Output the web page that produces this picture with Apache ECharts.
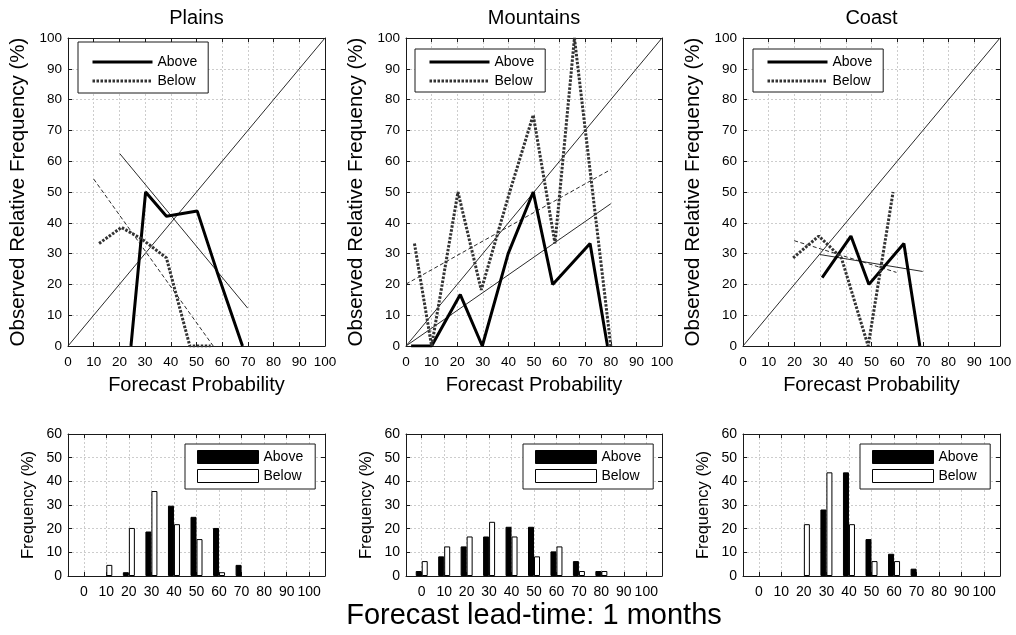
<!DOCTYPE html>
<html>
<head>
<meta charset="utf-8">
<script src="https://cdn.jsdelivr.net/npm/echarts@6/dist/echarts.min.js"></script>
<style>
html,body{margin:0;padding:0;background:#fff;}
#chart{width:1016px;height:635px;}
</style>
</head>
<body>
<div id="chart"></div>
<script>
// ---------- DATA ----------
const regionNames = ['Plains', 'Mountains', 'Coast'];
const probTicks = [0, 10, 20, 30, 40, 50, 60, 70, 80, 90, 100];

// perfect-reliability diagonal
const diagX = [0, 100];
const diagY = [0, 100];

// reliability curves (forecast probability, observed relative frequency %)
const plainsAboveX = [24.5, 30.2, 38.3, 50.3, 58.4, 67.9];
const plainsAboveY = [0, 50, 42.1, 43.8, 23.1, 0];
const plainsBelowX = [12.1, 20.8, 28.6, 38.3, 47.4, 55.5];
const plainsBelowY = [33.3, 38.5, 34.8, 28.6, 0, 0];

const mountainsAboveX = [2, 10, 21.2, 29.8, 39.9, 49.7, 57.3, 71.9, 78.7];
const mountainsAboveY = [0, 0, 16.7, 0, 30, 50, 20, 33.3, 0];
const mountainsBelowX = [3.3, 10, 20.3, 29.4, 40.5, 49.7, 58.2, 65.8, 80];
const mountainsBelowY = [33.3, 0, 50, 18.2, 50, 75, 33.3, 100, 0];

const coastAboveX = [30.8, 42, 49, 62.6, 68.8];
const coastAboveY = [22.2, 35.7, 20, 33.3, 0];
const coastBelowX = [19.5, 29.5, 38.3, 48.7, 58.4];
const coastBelowY = [28.6, 35.7, 28.6, 0, 50];

// fitted regression lines
const plainsAboveFitX = [20.1, 69.9];
const plainsAboveFitY = [62.5, 12.3];
const plainsBelowFitX = [10, 56.5];
const plainsBelowFitY = [54.2, 0];
const mountainsAboveFitX = [0, 80];
const mountainsAboveFitY = [0, 46.2];
const mountainsBelowFitX = [0, 80];
const mountainsBelowFitY = [20.1, 57.3];
const coastAboveFitX = [29.9, 69.9];
const coastAboveFitY = [29.7, 24.2];
const coastBelowFitX = [19.9, 59.7];
const coastBelowFitY = [34.2, 23.9];

// forecast frequency histograms (%) per probability bin (null = no bar)
const plainsHistAbove    = [null, null, 1.6, 18.8, 29.7, 25.0, 20.3, 4.7, null, null, null];
const plainsHistBelow    = [null, 4.7, 20.3, 35.9, 21.9, 15.6, 1.6, null, null, null, null];
const mountainsHistAbove = [2.1, 8.3, 12.5, 16.7, 20.8, 20.8, 10.4, 6.3, 2.1, null, null];
const mountainsHistBelow = [6.3, 12.5, 16.7, 22.9, 16.7, 8.3, 12.5, 2.1, 2.1, null, null];
const coastHistAbove     = [null, null, null, 28.1, 43.8, 15.6, 9.4, 3.1, null, null, null];
const coastHistBelow     = [null, null, 21.9, 43.8, 21.9, 6.3, 6.3, null, null, null, null];

const mainTitle = 'Forecast lead-time: 1 months';

// ---------- BUILD ----------
const FONT = '"Liberation Sans", Arial, Helvetica, sans-serif';
const FRAME = '#1a1a1a';
const GRIDC = '#cdcdcd';

function zip(xs, ys) { return xs.map((x, i) => [x, ys[i]]); }
function bars(vals) {
  const out = [];
  probTicks.forEach((x, i) => { if (vals[i] !== null) out.push([x, vals[i]]); });
  return out;
}

const rel = [
  {ax: plainsAboveX, ay: plainsAboveY, bx: plainsBelowX, by: plainsBelowY,
   afx: plainsAboveFitX, afy: plainsAboveFitY, bfx: plainsBelowFitX, bfy: plainsBelowFitY},
  {ax: mountainsAboveX, ay: mountainsAboveY, bx: mountainsBelowX, by: mountainsBelowY,
   afx: mountainsAboveFitX, afy: mountainsAboveFitY, bfx: mountainsBelowFitX, bfy: mountainsBelowFitY},
  {ax: coastAboveX, ay: coastAboveY, bx: coastBelowX, by: coastBelowY,
   afx: coastAboveFitX, afy: coastAboveFitY, bfx: coastBelowFitX, bfy: coastBelowFitY}
];
const hist = [
  [plainsHistAbove, plainsHistBelow],
  [mountainsHistAbove, mountainsHistBelow],
  [coastHistAbove, coastHistBelow]
];

const panelLeft = [68, 406, 743];
const panelWidth = [257, 256, 257];
const topLegendPos = [{left: 78, top: 42, padding: [13, 11, 5, 13]},
                      {left: 415, top: 49, padding: [6, 11, 4, 13]},
                      {left: 753, top: 49, padding: [6, 11, 4, 13]}];
const botLegendLeft = [185, 523, 860];

const grids = [], xAxes = [], yAxes = [], series = [], legends = [], titles = [];

const lineAxisCommon = {
  axisLine: {show: true, onZero: false, lineStyle: {color: FRAME, width: 1}},
  axisTick: {show: true, inside: true, length: 4, lineStyle: {color: FRAME, width: 1}}
};

for (let i = 0; i < 3; i++) {
  const cx = panelLeft[i] + panelWidth[i] / 2;
  titles.push({text: regionNames[i], left: cx, top: 8, textAlign: 'center', padding: 0,
    textStyle: {fontFamily: FONT, fontSize: 20, fontWeight: 'normal', color: '#000'}});

  // --- top reliability panel ---
  const g = grids.length;
  grids.push({left: panelLeft[i], top: 38, width: panelWidth[i], height: 308, containLabel: false});
  const xi = xAxes.length, yi = yAxes.length;
  xAxes.push(Object.assign({gridIndex: g, type: 'value', min: 0, max: 100, interval: 10, position: 'bottom',
    axisLabel: {fontFamily: FONT, fontSize: 13.5, color: '#000', margin: 9},
    splitLine: {show: true, lineStyle: {color: GRIDC, type: [2, 2], width: 1}},
    name: 'Forecast Probability', nameLocation: 'middle', nameGap: 29,
    nameTextStyle: {fontFamily: FONT, fontSize: 20, color: '#000'}}, lineAxisCommon));
  xAxes.push(Object.assign({gridIndex: g, type: 'value', min: 0, max: 100, interval: 10, position: 'top',
    axisLabel: {show: false}, splitLine: {show: false}}, lineAxisCommon));
  yAxes.push(Object.assign({gridIndex: g, type: 'value', min: 0, max: 100, interval: 10, position: 'left',
    axisLabel: {fontFamily: FONT, fontSize: 13.5, color: '#000', margin: 6},
    splitLine: {show: true, lineStyle: {color: GRIDC, type: [2, 2], width: 1}},
    name: 'Observed Relative Frequency (%)', nameLocation: 'middle', nameGap: 39,
    nameTextStyle: {fontFamily: FONT, fontSize: 20.5, color: '#000'}}, lineAxisCommon));
  yAxes.push(Object.assign({gridIndex: g, type: 'value', min: 0, max: 100, interval: 10, position: 'right',
    axisLabel: {show: false}, splitLine: {show: false}}, lineAxisCommon));

  const r = rel[i];
  const thin = {color: '#2a2a2a', width: 1};
  series.push({type: 'line', name: 'diag', xAxisIndex: xi, yAxisIndex: yi, data: zip(diagX, diagY),
    symbol: 'none', silent: true, lineStyle: thin, z: 2});
  series.push({type: 'line', name: 'fitAbove', xAxisIndex: xi, yAxisIndex: yi, data: zip(r.afx, r.afy),
    symbol: 'none', silent: true, lineStyle: thin, z: 2});
  series.push({type: 'line', name: 'fitBelow', xAxisIndex: xi, yAxisIndex: yi, data: zip(r.bfx, r.bfy),
    symbol: 'none', silent: true, lineStyle: {color: '#2a2a2a', width: 1, type: [4, 2.5]}, z: 2});
  series.push({type: 'line', name: 'Above', xAxisIndex: xi, yAxisIndex: yi, data: zip(r.ax, r.ay),
    symbol: 'none', itemStyle: {color: '#000'}, lineStyle: {color: '#000', width: 3}, z: 3});
  series.push({type: 'line', name: 'Below', xAxisIndex: xi, yAxisIndex: yi, data: zip(r.bx, r.by),
    symbol: 'none', itemStyle: {color: '#333'}, lineStyle: {color: '#333', width: 3, type: [2.5, 1.5]}, z: 3});

  legends.push(Object.assign({data: ['Above', 'Below'], orient: 'vertical', itemWidth: 60, itemHeight: 14,
    itemGap: 5, backgroundColor: '#fff', borderColor: FRAME, borderWidth: 1, borderRadius: 0,
    selectedMode: false, itemStyle: {opacity: 0}, lineStyle: {width: 3},
    textStyle: {fontFamily: FONT, fontSize: 14, color: '#000'}}, topLegendPos[i]));
}

for (let i = 0; i < 3; i++) {
  // --- bottom histogram panel ---
  const g = grids.length;
  grids.push({left: panelLeft[i], top: 434, width: panelWidth[i], height: 142, containLabel: false});
  const xi = xAxes.length, yi = yAxes.length;
  xAxes.push({gridIndex: g, type: 'value', min: -7, max: 107, position: 'bottom',
    axisLine: {show: true, onZero: false, lineStyle: {color: FRAME, width: 1}},
    axisTick: {show: true, inside: true, length: 4, customValues: probTicks, lineStyle: {color: FRAME}},
    axisLabel: {fontFamily: FONT, fontSize: 14, color: '#000', margin: 9, customValues: probTicks},
    splitLine: {show: true, lineStyle: {color: GRIDC, type: [2, 2], width: 1}}});
  xAxes.push({gridIndex: g, type: 'value', min: -7, max: 107, position: 'top',
    axisLine: {show: true, onZero: false, lineStyle: {color: FRAME, width: 1}},
    axisTick: {show: true, inside: true, length: 4, customValues: probTicks, lineStyle: {color: FRAME}},
    axisLabel: {show: false, customValues: probTicks}, splitLine: {show: false}});
  yAxes.push(Object.assign({gridIndex: g, type: 'value', min: 0, max: 60, interval: 10, position: 'left',
    axisLabel: {fontFamily: FONT, fontSize: 14, color: '#000', margin: 6},
    splitLine: {show: true, lineStyle: {color: GRIDC, type: [2, 2], width: 1}},
    name: 'Frequency (%)', nameLocation: 'middle', nameGap: 31,
    nameTextStyle: {fontFamily: FONT, fontSize: 16.5, color: '#000'}}, lineAxisCommon));
  yAxes.push(Object.assign({gridIndex: g, type: 'value', min: 0, max: 60, interval: 10, position: 'right',
    axisLabel: {show: false}, splitLine: {show: false}}, lineAxisCommon));

  series.push({type: 'bar', name: 'AboveBar', xAxisIndex: xi, yAxisIndex: yi, data: bars(hist[i][0]),
    barWidth: 6, barGap: '0%', itemStyle: {color: '#000', borderColor: '#000', borderWidth: 1}, z: 3});
  series.push({type: 'bar', name: 'BelowBar', xAxisIndex: xi, yAxisIndex: yi, data: bars(hist[i][1]),
    barWidth: 6, barGap: '0%', itemStyle: {color: '#fff', borderColor: '#000', borderWidth: 1}, z: 3});

  legends.push({data: ['AboveBar', 'BelowBar'], orient: 'vertical', left: botLegendLeft[i], top: 444,
    padding: [6, 12, 6, 12], itemWidth: 61, itemHeight: 13, itemGap: 5, icon: 'rect',
    backgroundColor: '#fff', borderColor: FRAME, borderWidth: 1, selectedMode: false,
    itemStyle: {borderColor: '#000', borderWidth: 1},
    formatter: n => n.replace('Bar', ''),
    textStyle: {fontFamily: FONT, fontSize: 14, color: '#000'}});
}

titles.push({text: mainTitle, left: 534, top: 601, textAlign: 'center', padding: 0,
  textStyle: {fontFamily: FONT, fontSize: 29, fontWeight: 'normal', color: '#000'}});

const chart = echarts.init(document.getElementById('chart'), null, {renderer: 'canvas'});
chart.setOption({
  animation: false,
  backgroundColor: '#fff',
  textStyle: {fontFamily: FONT, color: '#000'},
  title: titles,
  legend: legends,
  grid: grids,
  xAxis: xAxes,
  yAxis: yAxes,
  series: series
});
</script>
</body>
</html>
